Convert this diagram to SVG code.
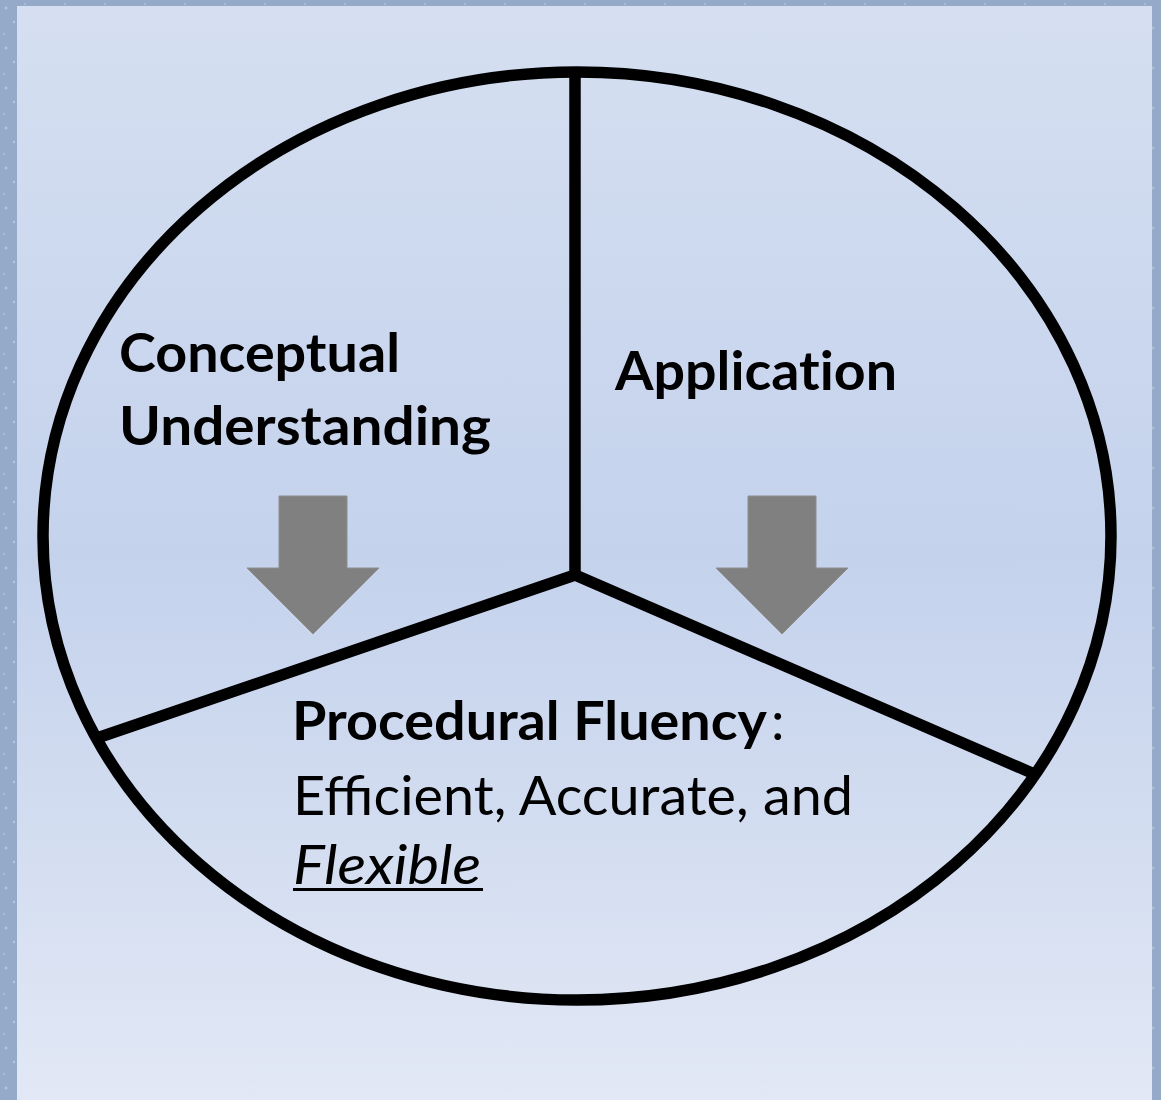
<svg xmlns="http://www.w3.org/2000/svg" width="1161" height="1100" viewBox="0 0 1161 1100">
  <defs>
    <linearGradient id="panelGrad" x1="0" y1="0" x2="0" y2="1">
      <stop offset="0" stop-color="#d5dff1"/>
      <stop offset="0.5" stop-color="#c4d2ec"/>
      <stop offset="1" stop-color="#e2e8f5"/>
    </linearGradient>
    <pattern id="speckle" width="40" height="40" patternUnits="userSpaceOnUse">
      <rect width="40" height="40" fill="#95aac8"/>
      <circle cx="6" cy="8" r="1.5" fill="#b4c4dc"/>
      <circle cx="25" cy="4" r="1" fill="#aebfd8"/>
      <circle cx="14" cy="22" r="1.2" fill="#b8c7de"/>
      <circle cx="33" cy="28" r="1.6" fill="#a9bbd5"/>
      <circle cx="4" cy="34" r="1" fill="#b2c2da"/>
      <circle cx="22" cy="36" r="0.8" fill="#c0cde2"/>
    </pattern>
    <style>
      .ring { fill: none; stroke: #000; stroke-width: 11.5; }
      .divider { stroke: #000; stroke-width: 11.5; stroke-linecap: butt; fill: none; }
      .arrow { fill: #808080; stroke: #8e8e8e; stroke-width: 1; }
      .bold { font-family: Lato, "Open Sans", "Liberation Sans", sans-serif; font-weight: bold; font-size: 54px; fill: #000; font-variant-ligatures: none; }
      .reg { font-family: Lato, "Open Sans", "Liberation Sans", sans-serif; font-weight: normal; font-size: 54px; fill: #000; }
      .ital { font-family: Lato, "Open Sans", "Liberation Sans", sans-serif; font-style: italic; font-size: 54px; fill: #000; }
    </style>
  </defs>

  <rect x="0" y="0" width="1161" height="1100" fill="url(#speckle)"/>
  <rect x="17" y="6" width="1135" height="1100" fill="url(#panelGrad)"/>

  <g id="circle">
    <ellipse class="ring" cx="577" cy="536" rx="534" ry="464"/>
  </g>

  <g id="connectors">
    <line class="divider" x1="575" y1="70" x2="575" y2="575"/>
    <polyline class="divider" points="100,737 575,575 1032,773" stroke-linejoin="miter"/>
  </g>

  <g id="arrow-left">
    <polygon class="arrow" points="279,496 347,496 347,568 379,568 313,634 247,568 279,568"/>
  </g>
  <g id="arrow-right">
    <polygon class="arrow" points="748,496 816,496 816,568 848,568 782,634 716,568 748,568"/>
  </g>

  <g id="node-conceptual">
    <text class="bold" x="119" y="372" textLength="281" lengthAdjust="spacingAndGlyphs">Conceptual</text>
    <text class="bold" x="119" y="445" textLength="372" lengthAdjust="spacingAndGlyphs">Understanding</text>
  </g>

  <g id="node-application">
    <text class="bold" x="615" y="390" textLength="282" lengthAdjust="spacingAndGlyphs">Application</text>
  </g>

  <g id="node-procedural">
    <text class="bold" x="292" y="740" textLength="475" lengthAdjust="spacingAndGlyphs">Procedural Fluency</text>
    <text class="reg" x="771" y="740">:</text>
    <text class="reg" x="293" y="815" textLength="560" lengthAdjust="spacingAndGlyphs">Efficient, Accurate, and</text>
    <text class="ital" x="293" y="884" textLength="188" lengthAdjust="spacingAndGlyphs">Flexible</text>
    <line x1="293" y1="889.5" x2="483" y2="889.5" stroke="#000" stroke-width="3"/>
  </g>
</svg>
